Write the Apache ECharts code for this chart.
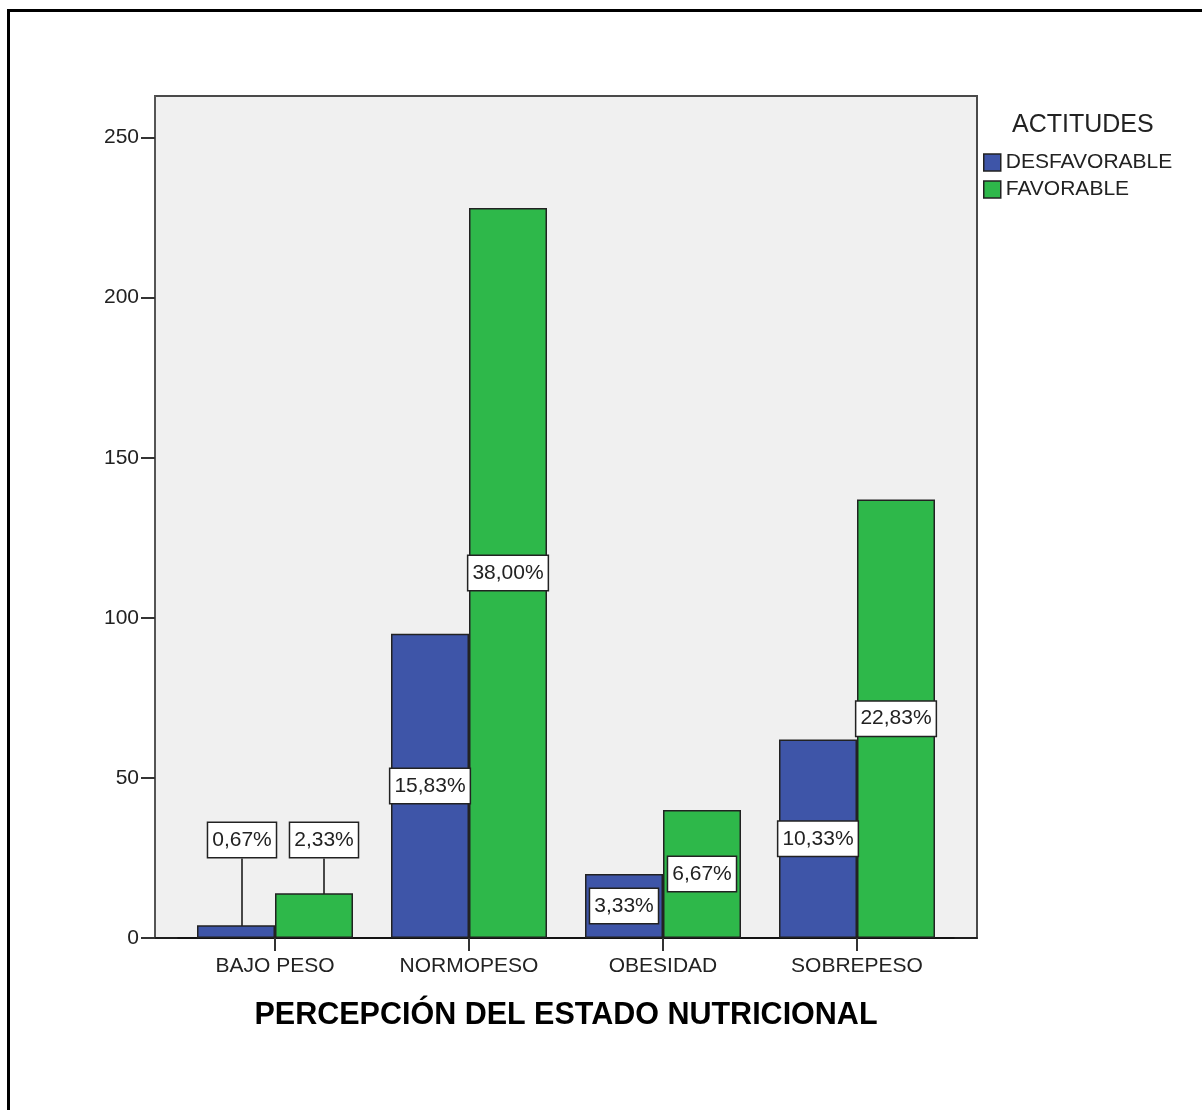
<!DOCTYPE html>
<html>
<head>
<meta charset="utf-8">
<script src="https://cdn.jsdelivr.net/npm/echarts@6/dist/echarts.min.js"></script>
<style>
  html, body { margin: 0; padding: 0; background: #fff; }
  #chart { width: 1202px; height: 1110px; }
</style>
</head>
<body>
<div id="chart"></div>
<script>
const categories = ['BAJO PESO', 'NORMOPESO', 'OBESIDAD', 'SOBREPESO'];
const desfavorable = [4, 95, 20, 62];
const favorable = [14, 228, 40, 137];
const yTicks = [0, 50, 100, 150, 200, 250];
const lifted = [0]; // categories whose labels sit above the bar with a leader line

const total = desfavorable.concat(favorable).reduce((a, b) => a + b, 0);
const pct = (v) => (v / total * 100).toFixed(2).replace('.', ',') + '%';

const labelBox = {
  show: true,
  position: 'inside',
  formatter: (p) => pct(p.value),
  backgroundColor: '#fff',
  borderColor: '#222',
  borderWidth: 1.5,
  padding: [7, 4, 6, 4],
  fontFamily: 'Liberation Sans, Arial, sans-serif',
  fontSize: 21,
  color: '#222',
};

// build bar data; lifted items get their own label position and guide line
const toData = (arr) => arr.map((v, i) => (lifted.includes(i)
  ? { value: v, label: { position: 'top' }, labelLine: { show: true, lineStyle: { color: '#111', width: 1.5 } } }
  : v));

const liftLayout = (shiftX) => (params) => {
  if (!lifted.includes(params.dataIndex)) return {};
  const r = params.labelRect;
  return { dy: 840 - (r.y + r.height / 2), dx: shiftX };
};

const chart = echarts.init(document.getElementById('chart'));
chart.setOption({
  animation: false,
  textStyle: { fontFamily: 'Liberation Sans, Arial, sans-serif' },
  title: {
    text: 'ACTITUDES',
    left: 1007,
    top: 108,
    textStyle: { fontSize: 25, fontWeight: 'normal', color: '#222' },
  },
  legend: {
    orient: 'vertical',
    left: 983,
    top: 152,
    padding: 0,
    icon: 'rect',
    itemWidth: 17,
    itemHeight: 17,
    itemGap: 6,
    itemStyle: { borderColor: '#222', borderWidth: 1.5 },
    textStyle: { fontSize: 21, color: '#222', padding: [0, 0, 0, 0] },
  },
  grid: [
    { // plot frame with grey background
      left: 155, top: 96, width: 822, height: 842,
      show: true, backgroundColor: '#F0F0F0', borderColor: '#4a4a4a', borderWidth: 2,
    },
    { // bars sit inside a slightly narrower band
      left: 178, top: 96, width: 776, height: 842,
    },
  ],
  xAxis: [
    {
      gridIndex: 0, type: 'value', min: 0, max: 1,
      axisLine: { show: true, lineStyle: { color: '#111', width: 1.5 } },
      axisTick: { show: false }, axisLabel: { show: false }, splitLine: { show: false },
    },
    {
      gridIndex: 1,
      type: 'category',
      data: categories,
      axisLine: { show: true, lineStyle: { color: '#111', width: 1.5 } },
      axisTick: { show: true, alignWithLabel: true, length: 13, lineStyle: { color: '#333', width: 2 } },
      axisLabel: { fontSize: 21, color: '#222', margin: 18 },
      name: 'PERCEPCIÓN DEL ESTADO NUTRICIONAL',
      nameLocation: 'middle',
      nameGap: 62,
      nameTextStyle: { fontSize: 30.5, fontWeight: 'bold', color: '#000' },
    },
  ],
  yAxis: [
    {
      gridIndex: 0,
      type: 'value',
      min: 0,
      max: 263,
      interval: 50,
      axisLine: { show: true, lineStyle: { color: '#555', width: 2 } },
      axisTick: { show: true, length: 14, customValues: yTicks, lineStyle: { color: '#333', width: 2 } },
      axisLabel: { fontSize: 21, color: '#222', margin: 16, customValues: yTicks },
      splitLine: { show: false },
    },
    { gridIndex: 1, type: 'value', min: 0, max: 263, show: false },
  ],
  series: [
    {
      name: 'DESFAVORABLE',
      type: 'bar',
      xAxisIndex: 1,
      yAxisIndex: 1,
      barWidth: 78,
      barGap: '0%',
      data: toData(desfavorable),
      itemStyle: { color: '#3E55A8', borderColor: '#222', borderWidth: 1.5 },
      label: labelBox,
      labelLayout: liftLayout(6),
    },
    {
      name: 'FAVORABLE',
      type: 'bar',
      xAxisIndex: 1,
      yAxisIndex: 1,
      barWidth: 78,
      barGap: '0%',
      data: toData(favorable),
      itemStyle: { color: '#2EB84A', borderColor: '#222', borderWidth: 1.5 },
      label: labelBox,
      labelLayout: liftLayout(10),
    },
  ],
  graphic: [
    { type: 'line', shape: { x1: 8.5, y1: 9, x2: 8.5, y2: 1110 }, style: { stroke: '#000', lineWidth: 3 } },
    { type: 'line', shape: { x1: 7, y1: 10.5, x2: 1202, y2: 10.5 }, style: { stroke: '#000', lineWidth: 3 } },
  ],
});
</script>
</body>
</html>
